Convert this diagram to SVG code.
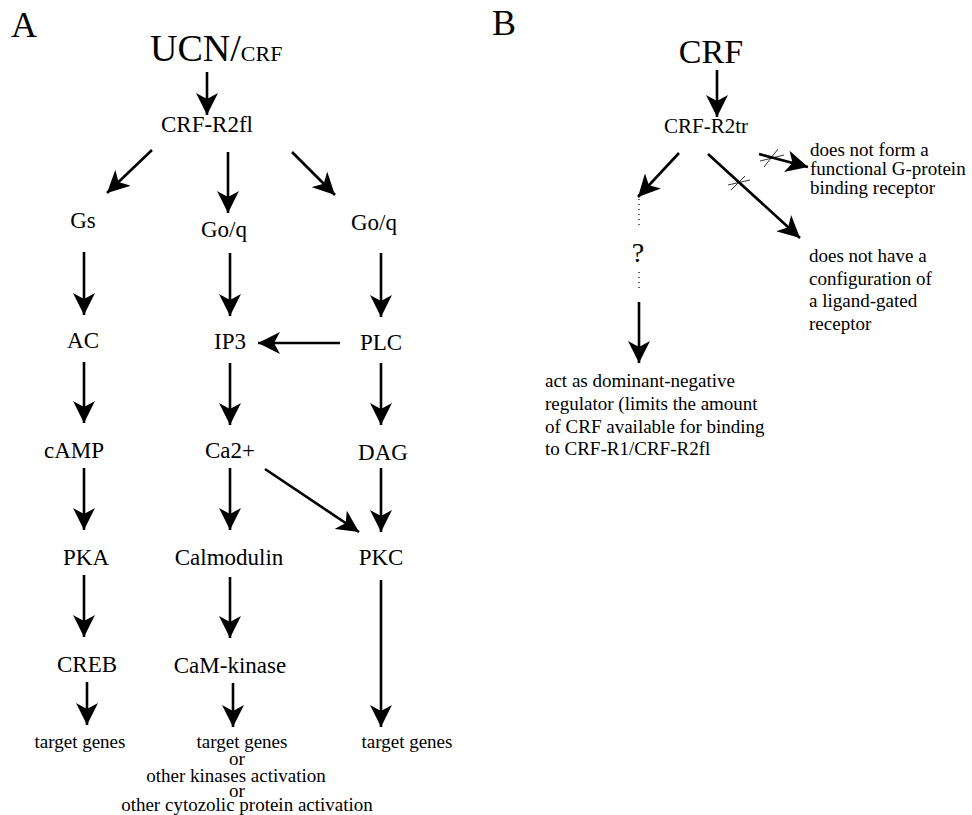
<svg xmlns="http://www.w3.org/2000/svg" width="972" height="815" viewBox="0 0 972 815">
<style>
text{font-family:"Liberation Serif","Times New Roman",serif;fill:#000}
.n{font-size:23px;text-anchor:middle}
.s{font-size:19px;text-anchor:middle}
.l{font-size:19px}
.big{font-size:36px}
.a{stroke:#000;stroke-width:2.6;fill:none;marker-end:url(#ah)}
.x{stroke:#000;stroke-width:0.8;fill:none}
.d{stroke:#000;stroke-width:1.2;stroke-dasharray:1 4;fill:none}
</style>
<defs>
<marker id="ah" markerUnits="userSpaceOnUse" markerWidth="24" markerHeight="22" refX="22" refY="11" orient="auto">
<path d="M0,0 L22,11 L0,22 L6,11 Z" fill="#000"/>
</marker>
</defs>
<rect width="972" height="815" fill="#fff"/>
<g id="labelA"><text class="big" x="11" y="37">A</text></g>
<g id="labelB"><text class="big" x="492" y="35">B</text></g>

<g id="ucn"><text x="150" y="61"><tspan font-size="38">UCN/</tspan><tspan font-size="22">CRF</tspan></text></g>
<g id="crfr2fl"><text class="n" x="207" y="132" font-size="24">CRF-R2fl</text></g>
<g id="gs"><text class="n" x="83" y="228">Gs</text></g>
<g id="goq1"><text class="n" x="224" y="237">Go/q</text></g>
<g id="goq2"><text class="n" x="374" y="230">Go/q</text></g>
<g id="ac"><text class="n" x="83" y="348">AC</text></g>
<g id="ip3"><text class="n" x="230" y="349">IP3</text></g>
<g id="plc"><text class="n" x="381" y="350">PLC</text></g>
<g id="camp"><text class="n" x="74" y="458">cAMP</text></g>
<g id="ca"><text class="n" x="230" y="458">Ca2+</text></g>
<g id="dag"><text class="n" x="383" y="460">DAG</text></g>
<g id="pka"><text class="n" x="86" y="565">PKA</text></g>
<g id="calmodulin"><text class="n" x="229" y="565">Calmodulin</text></g>
<g id="pkc"><text class="n" x="381" y="565">PKC</text></g>
<g id="creb"><text class="n" x="87" y="672">CREB</text></g>
<g id="camkinase"><text class="n" x="230" y="673">CaM-kinase</text></g>
<g id="tg1"><text class="s" x="80" y="748">target genes</text></g>
<g id="tg2">
<text class="s" x="242" y="748">target genes</text>
<text class="s" x="237" y="765">or</text>
<text class="s" x="236" y="782">other kinases activation</text>
<text class="s" x="237" y="797">or</text>
<text class="s" x="247" y="811">other cytozolic protein activation</text>
</g>
<g id="tg3"><text class="s" x="407" y="748">target genes</text></g>

<g id="crf"><text x="711" y="63" font-size="34" text-anchor="middle">CRF</text></g>
<g id="crfr2tr"><text x="706" y="133" font-size="21" text-anchor="middle">CRF-R2tr</text></g>
<g id="q"><text x="638" y="262" font-size="28" text-anchor="middle">?</text></g>
<g id="gprot">
<text class="l" x="810" y="156">does not form a</text>
<text class="l" x="810" y="175">functional G-protein</text>
<text class="l" x="810" y="194">binding receptor</text>
</g>
<g id="ligand">
<text class="l" x="809" y="262">does not have a</text>
<text class="l" x="809" y="285">configuration of</text>
<text class="l" x="809" y="307">a ligand-gated</text>
<text class="l" x="809" y="330">receptor</text>
</g>
<g id="dominant">
<text class="l" x="545" y="387">act as dominant-negative</text>
<text class="l" x="545" y="410">regulator (limits the amount</text>
<text class="l" x="545" y="433">of CRF available for binding</text>
<text class="l" x="545" y="455">to CRF-R1/CRF-R2fl</text>
</g>

<g id="connectors">
<line class="a" x1="207" y1="72" x2="207" y2="115"/>
<line class="a" x1="152" y1="150" x2="107" y2="193"/>
<line class="a" x1="228" y1="152" x2="228" y2="213"/>
<line class="a" x1="292" y1="152" x2="335" y2="195"/>
<line class="a" x1="84" y1="252" x2="84" y2="315"/>
<line class="a" x1="230" y1="253" x2="230" y2="316"/>
<line class="a" x1="381" y1="253" x2="381" y2="317"/>
<line class="a" x1="340" y1="343" x2="258" y2="343"/>
<line class="a" x1="84" y1="362" x2="84" y2="423"/>
<line class="a" x1="230" y1="363" x2="230" y2="425"/>
<line class="a" x1="381" y1="363" x2="381" y2="425"/>
<line class="a" x1="84" y1="468" x2="84" y2="530"/>
<line class="a" x1="230" y1="468" x2="230" y2="530"/>
<line class="a" x1="265" y1="469" x2="359" y2="532"/>
<line class="a" x1="381" y1="468" x2="381" y2="532"/>
<line class="a" x1="84" y1="575" x2="84" y2="637"/>
<line class="a" x1="230" y1="577" x2="230" y2="638"/>
<line class="a" x1="381" y1="580" x2="381" y2="727"/>
<line class="a" x1="87" y1="682" x2="87" y2="725"/>
<line class="a" x1="233" y1="683" x2="233" y2="727"/>

<line class="a" x1="717" y1="70" x2="717" y2="117"/>
<line class="a" x1="679" y1="153" x2="638" y2="197"/>
<line class="a" x1="708" y1="154" x2="800" y2="238"/>
<line class="a" x1="759" y1="154" x2="808" y2="167"/>
<line class="a" x1="639" y1="302" x2="639" y2="363"/>
<line class="d" x1="639" y1="194" x2="639" y2="228"/>
<line class="d" x1="639" y1="272" x2="639" y2="292"/>
<path class="x" d="M764,167 L778,149 M760,161 L784,155"/>
<path class="x" d="M731,190 L745,176 M728,185 L750,180"/>
</g>
</svg>
